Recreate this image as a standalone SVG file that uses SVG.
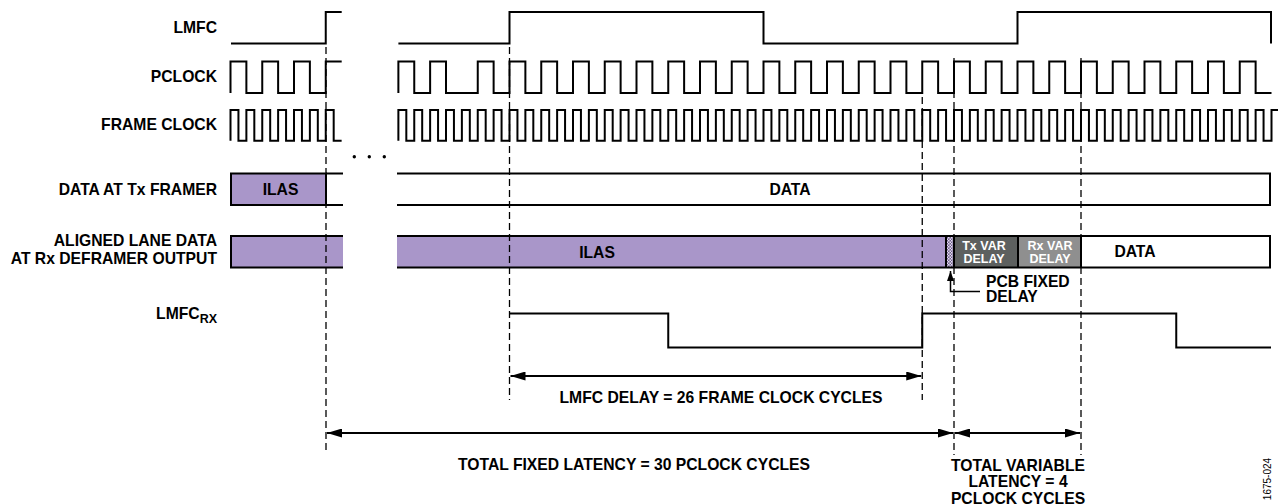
<svg xmlns="http://www.w3.org/2000/svg" width="1278" height="504" viewBox="0 0 1278 504">
<style>
text{font-family:"Liberation Sans",Arial,sans-serif;font-weight:bold;font-size:15.7px;fill:#000}
.lbl{text-anchor:end}
.mid{text-anchor:middle}
.wave{fill:none;stroke:#000;stroke-width:2;stroke-linejoin:miter}
.box{stroke:#000;stroke-width:2;fill:none}
.dash{stroke:#000;stroke-width:1.3;stroke-dasharray:7 4;fill:none}
.arr{stroke:#000;stroke-width:2;fill:none;marker-start:url(#ah);marker-end:url(#ah)}
.small{font-size:12.5px;fill:#fff}
</style>
<defs>
<marker id="ah" markerUnits="userSpaceOnUse" markerWidth="16" markerHeight="9" refX="15" refY="4.5" orient="auto-start-reverse"><path d="M0,0 L15,4.5 L0,9 z" fill="#000"/></marker>
<marker id="ahs" markerUnits="userSpaceOnUse" markerWidth="10" markerHeight="7" refX="10" refY="3.5" orient="auto"><path d="M0,0 L10,3.5 L0,7 z" fill="#000"/></marker>
<pattern id="hatch" width="3" height="3" patternUnits="userSpaceOnUse"><rect width="3" height="3" fill="#6f5e8e"/><rect x="0" y="0" width="1.5" height="1.5" fill="#e6e0f0"/><rect x="1.5" y="1.5" width="1.5" height="1.5" fill="#e6e0f0"/></pattern>
</defs>
<rect width="1278" height="504" fill="#fff"/>

<g id="label-lmfc"><text class="lbl" x="217" y="33">LMFC</text></g>
<g id="label-pclock"><text class="lbl" x="217" y="81.5">PCLOCK</text></g>
<g id="label-frameclock"><text class="lbl" x="217" y="130">FRAME CLOCK</text></g>
<g id="label-txframer"><text class="lbl" x="217" y="195">DATA AT Tx FRAMER</text></g>
<g id="label-aligned"><text class="lbl" x="217" y="246">ALIGNED LANE DATA</text><text class="lbl" x="217" y="264">AT Rx DEFRAMER OUTPUT</text></g>
<g id="label-lmfcrx"><text class="lbl" x="217" y="319">LMFC<tspan dy="4" font-size="12.5">RX</tspan></text></g>

<g id="wave-lmfc">
<path class="wave" d="M231,43.5 H325.75 V12 H341.7"/>
<path class="wave" d="M398.4,43.5 H509.5 V12 H763.5 V43.5 H1017.5 V12 H1271 V43.5"/>
</g>
<g id="wave-pclock">
<path class="wave" d="M230.5,93 V61.5 h15.875 V93 h15.875 V61.5 h15.875 V93 h15.875 V61.5 h15.875 V93 h15.875 V61.5 H341.7"/>
<path class="wave" d="M398.375,93 V61.5 h15.875 V93 h15.875 V61.5 h15.875 V93 H477.75 V61.5 h15.875 V93 h15.875
V61.5h15.875V93h15.875 V61.5h15.875V93h15.875 V61.5h15.875V93h15.875 V61.5h15.875V93h15.875 V61.5h15.875V93h15.875 V61.5h15.875V93h15.875
V61.5h15.875V93h15.875 V61.5h15.875V93h15.875 V61.5h15.875V93h15.875 V61.5h15.875V93h15.875 V61.5h15.875V93h15.875 V61.5h15.875V93h15.875
V61.5h15.875V93h15.875 V61.5h15.875V93h15.875 V61.5h15.875V93h15.875 V61.5h15.875V93h15.875 V61.5h15.875V93h15.875 V61.5h15.875V93h15.875
V61.5h15.875V93h15.875 V61.5h15.875V93h15.875 V61.5h15.875V93h15.875 V61.5h15.875V93h15.875 V61.5h15.875V93h15.875 V61.5h15.875V93h15.875"/>
</g>
<g id="wave-frameclock">
<path class="wave" d="M230.5,140.7 V110h7.9375V140.7h7.9375V110h7.9375V140.7h7.9375V110h7.9375V140.7h7.9375V110h7.9375V140.7h7.9375V110h7.9375V140.7h7.9375V110h7.9375V140.7h7.9375V110h7.9375V140.7h7.9375"/>
<path class="wave" d="M398.375,140.7 V110h7.9375V140.7h7.9375V110h7.9375V140.7h7.9375V110h7.9375V140.7h7.9375V110h7.9375V140.7h7.9375V110h7.9375V140.7h7.9375V110h7.9375V140.7h7.9375V110h7.9375V140.7h7.9375V110h7.9375V140.7h7.9375V110h7.9375V140.7h7.9375V110h7.9375V140.7h7.9375V110h7.9375V140.7h7.9375V110h7.9375V140.7h7.9375V110h7.9375V140.7h7.9375V110h7.9375V140.7h7.9375V110h7.9375V140.7h7.9375V110h7.9375V140.7h7.9375V110h7.9375V140.7h7.9375V110h7.9375V140.7h7.9375V110h7.9375V140.7h7.9375V110h7.9375V140.7h7.9375V110h7.9375V140.7h7.9375V110h7.9375V140.7h7.9375V110h7.9375V140.7h7.9375V110h7.9375V140.7h7.9375V110h7.9375V140.7h7.9375V110h7.9375V140.7h7.9375V110h7.9375V140.7h7.9375V110h7.9375V140.7h7.9375V110h7.9375V140.7h7.9375V110h7.9375V140.7h7.9375V110h7.9375V140.7h7.9375V110h7.9375V140.7h7.9375V110h7.9375V140.7h7.9375V110h7.9375V140.7h7.9375V110h7.9375V140.7h7.9375V110h7.9375V140.7h7.9375V110h7.9375V140.7h7.9375V110h7.9375V140.7h7.9375V110h7.9375V140.7h7.9375V110h7.9375V140.7h7.9375V110h7.9375V140.7h7.9375V110h7.9375V140.7h7.9375V110h7.9375V140.7h7.9375V110h7.9375V140.7h7.9375V110h7.9375V140.7h7.9375V110h7.9375V140.7h7.9375V110h7.9375V140.7h7.9375V110h7.9375V140.7h7.9375V110h7.9375V140.7h7.9375V110h7.9375V140.7h7.9375V110h7.9375V140.7h7.9375V110h7.9375V140.7h7.9375V110h7.9375V140.7h7.9375V110h7.9375V140.7h7.9375V110h7.9375V140.7h7.9375V110h7.9375V140.7h7.9375V110h7.9375V140.7h7.9375V110h7.9375V140.7h7.9375V110h7.9375V140.7h7.9375V110h7.9375V140.7h7.9375"/>
</g>
<g id="ellipsis">
<circle cx="354.3" cy="156.7" r="1.7"/><circle cx="369.3" cy="156.7" r="1.7"/><circle cx="384.3" cy="156.7" r="1.7"/>
</g>

<g id="row-txframer">
<rect x="231" y="173.5" width="95" height="31.5" class="box" style="fill:#a996c9"/>
<path class="box" d="M326,173.5 H343 M326,205 H343"/>
<path class="box" d="M397,173.5 H1270 V205 H397"/>
<text class="mid" x="280.5" y="195">ILAS</text>
<text class="mid" x="790" y="195">DATA</text>
</g>

<g id="row-aligned">
<rect x="231" y="236" width="112" height="31.5" fill="#a996c9"/>
<path class="box" d="M343,236 H231 V267.5 H343"/>
<rect x="397" y="236" width="549" height="31.5" fill="#a996c9"/>
<rect x="946" y="236" width="8" height="31.5" fill="url(#hatch)"/>
<rect x="954" y="236" width="64" height="31.5" fill="#5d605f"/>
<rect x="1018" y="236" width="63" height="31.5" fill="#8f8f8f"/>
<path class="box" d="M397,236 H1270 V267.5 H397 M946,236 V267.5 M954,236 V267.5 M1018,236 V267.5 M1081,236 V267.5"/>
<text class="mid" x="597" y="258">ILAS</text>
<text class="small mid" x="984" y="250">Tx VAR</text>
<text class="small mid" x="984" y="263.3">DELAY</text>
<text class="small mid" x="1050" y="250">Rx VAR</text>
<text class="small mid" x="1050" y="263.3">DELAY</text>
<text class="mid" x="1135" y="257.3">DATA</text>
</g>

<g id="wave-lmfcrx">
<path class="wave" d="M509.5,313.5 H668.25 V347.5 H922.25 V313.5 H1176.25 V347.5 H1271"/>
</g>

<g id="pcb-fixed-delay">
<text x="986" y="286.7">PCB FIXED</text>
<text x="986" y="301.7">DELAY</text>
</g>

<g id="connectors">
<line class="dash" x1="326" y1="47" x2="326" y2="452"/>
<line class="dash" x1="509.5" y1="47" x2="509.5" y2="400"/>
<line class="dash" x1="922.25" y1="97" x2="922.25" y2="400"/>
<line class="dash" x1="954" y1="58" x2="954" y2="455"/>
<line class="dash" x1="1081" y1="58" x2="1081" y2="455"/>
<path d="M980,291.5 H950.5 V271" fill="none" stroke="#000" stroke-width="1.5" marker-end="url(#ahs)"/>
<line class="arr" x1="510.5" y1="376" x2="921.25" y2="376"/>
<line class="arr" x1="327" y1="433" x2="953" y2="433"/>
<line class="arr" x1="955" y1="433" x2="1080" y2="433"/>
</g>

<g id="annotations">
<text class="mid" x="721" y="403">LMFC DELAY = 26 FRAME CLOCK CYCLES</text>
<text class="mid" x="634" y="470">TOTAL FIXED LATENCY = 30 PCLOCK CYCLES</text>
<text class="mid" x="1018" y="470.7">TOTAL VARIABLE</text>
<text class="mid" x="1018" y="487.3">LATENCY = 4</text>
<text class="mid" x="1018" y="503.5">PCLOCK CYCLES</text>
<text transform="translate(1270.5,479) rotate(-90)" class="mid" style="font-weight:normal;font-size:10px">1675-024</text>
</g>
</svg>
